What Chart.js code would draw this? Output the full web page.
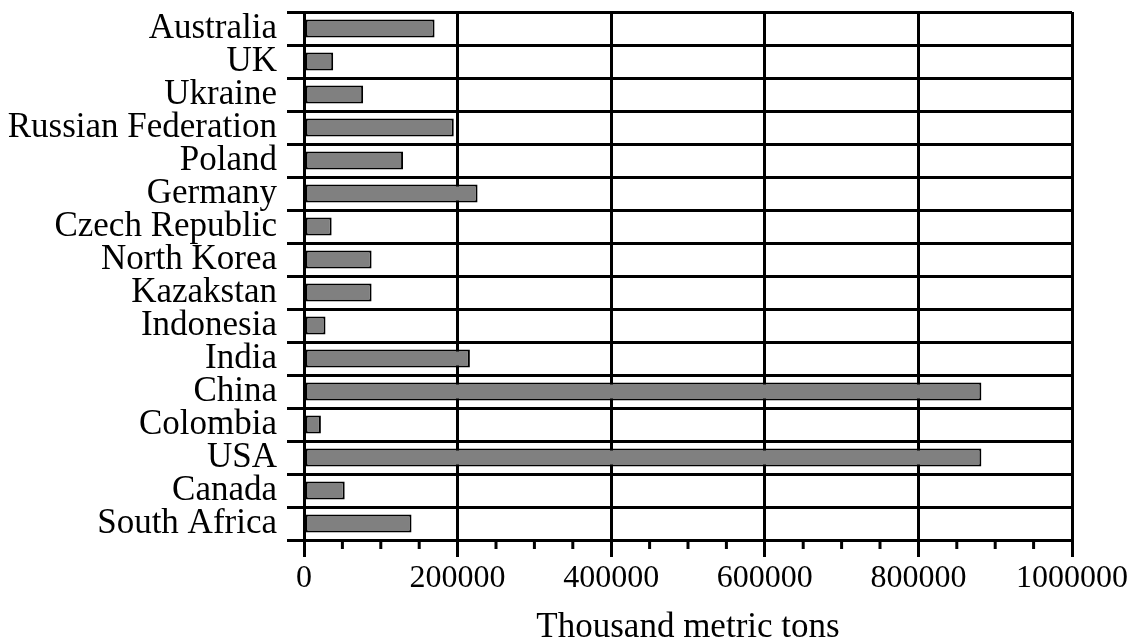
<!DOCTYPE html>
<html>
<head>
<meta charset="utf-8">
<script src="https://cdn.jsdelivr.net/npm/chart.js@4.4.1/dist/chart.umd.min.js"></script>
<style>
    html, body { margin: 0; padding: 0; background: #fff; }
    #wrap { width: 1133px; height: 641px; position: relative; }
</style>
</head>
<body>
<div id="wrap"><canvas id="coal-chart"></canvas></div>
<script>
// Coal production by country, top to bottom as in the picture
const countries = [
    'Australia', 'UK', 'Ukraine', 'Russian Federation', 'Poland', 'Germany',
    'Czech Republic', 'North Korea', 'Kazakstan', 'Indonesia', 'India',
    'China', 'Colombia', 'USA', 'Canada', 'South Africa'
];
const production = [
    170000, 38000, 77000, 195000, 129000, 226000,
    36000, 88000, 88000, 28000, 216000,
    882000, 22000, 882000, 53000, 140000
];
const xMax = 1000000;
const majorStep = 200000;
const minorStep = 50000;
const axisTitle = 'Thousand metric tons';

const serif = '"Liberation Serif", "DejaVu Serif", serif';

// Chart.js has no minor ticks, so draw the short ones under the x axis here
const minorTicks = {
    id: 'minorTicks',
    afterDraw(chart) {
        const scale = chart.scales.x;
        const bottom = chart.chartArea.bottom;
        const ctx = chart.ctx;
        ctx.save();
        ctx.strokeStyle = '#000';
        ctx.lineWidth = 3;
        for (let v = minorStep; v < xMax; v += minorStep) {
            if (v % majorStep === 0) continue;
            const px = scale.getPixelForValue(v);
            ctx.beginPath();
            ctx.moveTo(px, bottom);
            ctx.lineTo(px, bottom + 9);
            ctx.stroke();
        }
        ctx.restore();
    }
};

const ctx = document.getElementById('coal-chart').getContext('2d');
new Chart(ctx, {
    type: 'bar',
    data: {
        labels: countries,
        datasets: [{
            label: axisTitle,
            data: production,
            backgroundColor: '#808080',
            borderColor: '#000',
            borderWidth: 2,
            borderSkipped: false,
            barPercentage: 0.54,
            categoryPercentage: 1
        }]
    },
    options: {
        indexAxis: 'y',
        responsive: true,
        maintainAspectRatio: false,
        animation: false,
        layout: {
            // bottom pushed past the canvas a bit so the axis title sits lower
            padding: { top: 12, right: 61, left: 0, bottom: -8 }
        },
        plugins: {
            legend: { display: false },
            tooltip: { enabled: false }
        },
        scales: {
            x: {
                min: 0,
                max: xMax,
                afterFit(scale) {
                    scale.height = 109;
                    scale.paddingLeft = 0;
                    scale.paddingRight = 0;
                },
                ticks: {
                    stepSize: majorStep,
                    color: '#000',
                    padding: 2,
                    maxRotation: 0,
                    font: { family: serif, size: 32 },
                    callback: value => String(value)
                },
                grid: { color: '#000', lineWidth: 3, tickLength: 17 },
                border: { color: '#000', width: 3 },
                title: {
                    display: true,
                    text: axisTitle,
                    color: '#000',
                    font: { family: serif, size: 35 },
                    padding: { top: 8, bottom: 0 }
                }
            },
            y: {
                afterFit(scale) {
                    scale.width = 304;
                    scale.paddingTop = 0;
                    scale.paddingBottom = 0;
                },
                ticks: {
                    color: '#000',
                    padding: 10,
                    autoSkip: false,
                    font: { family: serif, size: 35 }
                },
                grid: { color: '#000', lineWidth: 3, tickLength: 17, offset: true },
                border: { color: '#000', width: 3 }
            }
        }
    },
    plugins: [minorTicks]
});
</script>
</body>
</html>
